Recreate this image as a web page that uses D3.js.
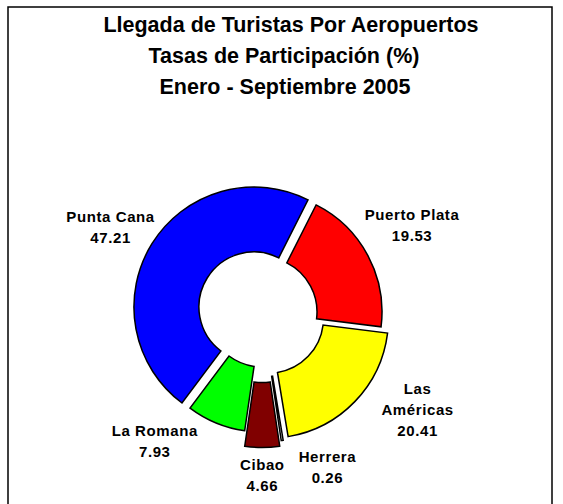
<!DOCTYPE html>
<html>
<head>
<meta charset="utf-8">
<script src="https://cdn.jsdelivr.net/npm/d3@7"></script>
<style>
  html, body { margin: 0; padding: 0; background: #fff; }
  svg { display: block; }
  text { font-family: "Liberation Sans", Arial, Helvetica, sans-serif; font-weight: bold; fill: #000; }
</style>
</head>
<body>
<script>
// Airport arrivals share, January - September 2005
const airports = ["Puerto Plata", "Las Américas", "Herrera", "Cibao", "La Romana", "Punta Cana"];
const shares = [19.53, 20.41, 0.26, 4.66, 7.93, 47.21];
const shareLabels = ["19.53", "20.41", "0.26", "4.66", "7.93", "47.21"];
const nameLines = [["Puerto Plata"], ["Las", "Américas"], ["Herrera"], ["Cibao"], ["La Romana"], ["Punta Cana"]];
const sliceColors = ["#ff0000", "#ffff00", "#ffffff", "#800000", "#00ff00", "#0000ff"];
const titleLines = ["Llegada de Turistas Por Aeropuertos", "Tasas de Participación (%)", "Enero - Septiembre 2005"];

// Layout: how far each slice is pulled out, and label nudges from the default label ring
const explodeBy = { "Puerto Plata": 0, "Las Américas": 9, "Herrera": 10, "Cibao": 15.5, "La Romana": 0, "Punta Cana": 9.5 };
const labelNudge = {
  "Puerto Plata": [0, -7], "Las Américas": [33, -20], "Herrera": [39, -13],
  "Cibao": [0, -7], "La Romana": [-42, -28], "Punta Cana": [-7, 5]
};

const W = 563, H = 504;
const cx = 262, cy = 312, outerR = 120, innerR = 55, labelR = 170;
const startDeg = 26.8;
const rad = d => d * Math.PI / 180;

const svg = d3.select("body").append("svg").attr("width", W).attr("height", H);

// outer frame (bottom edge runs past the page)
svg.append("rect")
  .attr("x", 8).attr("y", 7).attr("width", 544).attr("height", 520)
  .attr("fill", "#fff").attr("stroke", "#000").attr("stroke-width", 1.5);

// title
const titleX = [291, 284, 285];
svg.append("g").selectAll("text").data(titleLines).join("text")
  .attr("x", (d, i) => titleX[i])
  .attr("y", (d, i) => 31.7 + i * 31.3)
  .attr("text-anchor", "middle")
  .style("font-size", "21.5px")
  .text(d => d);

const rows = airports.map((name, i) => ({ name, value: shares[i], label: shareLabels[i], lines: nameLines[i], color: sliceColors[i] }));

const pie = d3.pie().sort(null).value(d => d.value)
  .startAngle(rad(startDeg)).endAngle(rad(startDeg) + 2 * Math.PI);
const arc = d3.arc().innerRadius(innerR).outerRadius(outerR);
const arcs = pie(rows);

const mid = a => (a.startAngle + a.endAngle) / 2;

svg.append("g").selectAll("path").data(arcs).join("path")
  .attr("transform", a => {
    const m = mid(a), d = explodeBy[a.data.name];
    return `translate(${cx + d * Math.sin(m)},${cy - d * Math.cos(m)})`;
  })
  .attr("d", arc)
  .attr("fill", a => a.data.color)
  .attr("stroke", "#000")
  .attr("stroke-width", 1.5)
  .attr("stroke-linejoin", "miter");

// data labels: name lines followed by the share
const lineGap = 21;
const labels = svg.append("g").selectAll("g").data(arcs).join("g")
  .attr("transform", a => {
    const m = mid(a), n = labelNudge[a.data.name];
    return `translate(${cx + labelR * Math.sin(m) + n[0]},${cy - labelR * Math.cos(m) + n[1]})`;
  });

labels.each(function (a) {
  const lines = a.data.lines.concat([a.data.label]);
  d3.select(this).selectAll("text").data(lines).join("text")
    .attr("x", 0)
    .attr("y", (d, i) => (i - (lines.length - 1) / 2) * lineGap)
    .attr("dy", "0.35em")
    .attr("text-anchor", "middle")
    .style("font-size", "15px")
    .style("letter-spacing", "0.6px")
    .text(d => d);
});
</script>
</body>
</html>
